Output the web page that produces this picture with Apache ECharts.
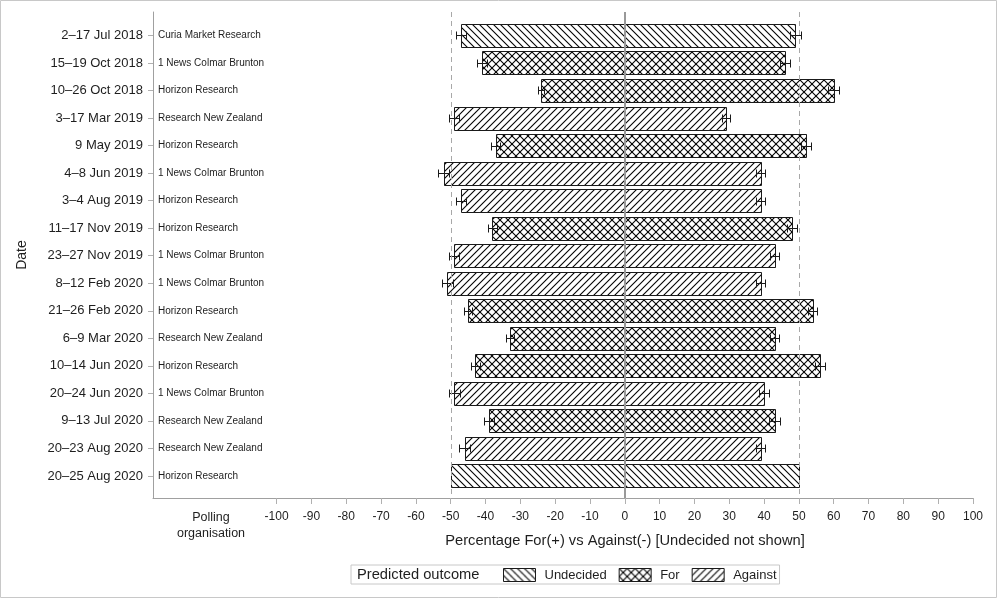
<!DOCTYPE html>
<html>
<head>
<meta charset="utf-8">
<script src="https://cdn.jsdelivr.net/npm/echarts@6/dist/echarts.min.js"></script>
<style>
html,body{margin:0;padding:0;background:#fff;}
#chart{width:998px;height:599px;}
</style>
</head>
<body>
<div id="chart"></div>
<script>
// ---- data ----
const dates = ['2–17 Jul 2018','15–19 Oct 2018','10–26 Oct 2018','3–17 Mar 2019','9 May 2019','4–8 Jun 2019','3–4 Aug 2019','11–17 Nov 2019','23–27 Nov 2019','8–12 Feb 2020','21–26 Feb 2020','6–9 Mar 2020','10–14 Jun 2020','20–24 Jun 2020','9–13 Jul 2020','20–23 Aug 2020','20–25 Aug 2020'];
const pollsters = ['Curia Market Research','1 News Colmar Brunton','Horizon Research','Research New Zealand','Horizon Research','1 News Colmar Brunton','Horizon Research','Horizon Research','1 News Colmar Brunton','1 News Colmar Brunton','Horizon Research','Research New Zealand','Horizon Research','1 News Colmar Brunton','Research New Zealand','Research New Zealand','Horizon Research'];
const outcomes = ['Undecided','For','For','Against','For','Against','Against','For','Against','Against','For','For','For','Against','For','Against','Undecided'];
const againstPct = [47,41,24,49,37,52,47,38,49,51,45,33,43,49,39,46,50];
const forPct = [49,46,60,29,52,39,39,48,43,39,54,43,56,40,43,39,50];
const errAgainst = [1.4,1.35,0.8,1.35,1.3,1.65,1.4,1.3,1.45,1.6,1.2,1.2,1.3,1.55,1.4,1.5,0];
const errFor = [1.5,1.4,1.5,1.1,1.5,1.3,1.3,1.5,1.4,1.4,1.3,1.35,1.4,1.35,1.45,1.4,0];
const outcomeNames = ['Undecided','For','Against'];
const xTicks = [-100,-90,-80,-70,-60,-50,-40,-30,-20,-10,0,10,20,30,40,50,60,70,80,90,100];
const refLines = [-50, 0, 50];

// ---- hatch patterns ----
function makePattern(kind) {
  const s = kind === 'cross' ? 8 : 7;
  const c = document.createElement('canvas');
  c.width = s; c.height = s;
  const g = c.getContext('2d');
  g.fillStyle = '#fff'; g.fillRect(0, 0, s, s);
  g.strokeStyle = '#000'; g.lineWidth = 1.1;
  if (kind === 'fwd' || kind === 'cross') {
    [0, s, 2 * s].forEach(k => { g.beginPath(); g.moveTo(k + 1, -1); g.lineTo(k - s - 1, s + 1); g.stroke(); });
  }
  if (kind === 'back' || kind === 'cross') {
    [-s, 0, s].forEach(k => { g.beginPath(); g.moveTo(k - 1, -1); g.lineTo(k + s + 1, s + 1); g.stroke(); });
  }
  return { image: c, repeat: 'repeat' };
}
const patterns = { 'Undecided': makePattern('back'), 'For': makePattern('cross'), 'Against': makePattern('fwd') };

const FONT = "'Liberation Sans', Arial, sans-serif";
const rows = dates.map((d, i) => i);

function renderBar(name) {
  return function (params, api) {
    const row = api.value(0);
    const a = api.value(1), f = api.value(2), ea = api.value(3), ef = api.value(4);
    const p0 = api.coord([-a, row]);
    const p1 = api.coord([f, row]);
    const h = api.size([0, 1])[1] * 0.835;
    const y = p0[1];
    const x0 = Math.round(p0[0]) + 0.5, x1 = Math.round(p1[0]) + 0.5;
    const yt = Math.round(y - h / 2) + 0.5;
    const children = [{
      type: 'rect',
      shape: { x: x0, y: yt, width: x1 - x0, height: Math.round(h) },
      style: { fill: patterns[name], stroke: '#1a1a1a', lineWidth: 1 }
    }];
    const yc = Math.round(y) + 0.5;
    function errBar(v, e) {
      if (!e) return;
      const l = Math.round(api.coord([v - e, row])[0]) + 0.5;
      const r = Math.round(api.coord([v + e, row])[0]) + 0.5;
      const st = { stroke: '#1a1a1a', lineWidth: 1 };
      children.push({ type: 'line', shape: { x1: l, y1: yc, x2: r, y2: yc }, style: st });
      children.push({ type: 'line', shape: { x1: l, y1: yc - 4, x2: l, y2: yc + 4 }, style: st });
      children.push({ type: 'line', shape: { x1: r, y1: yc - 4, x2: r, y2: yc + 4 }, style: st });
    }
    errBar(-a, ea);
    errBar(f, ef);
    return { type: 'group', children: children };
  };
}

const barSeries = outcomeNames.map(name => ({
  type: 'custom',
  name: name,
  xAxisIndex: 0, yAxisIndex: 0,
  itemStyle: { color: patterns[name] },
  encode: { x: 2, y: 0 },
  renderItem: renderBar(name),
  data: rows.filter(i => outcomes[i] === name).map(i => [i, againstPct[i], forPct[i], errAgainst[i], errFor[i]]),
  z: 2,
  silent: true
}));

const refSeries = {
  type: 'custom',
  name: 'ref',
  xAxisIndex: 0, yAxisIndex: 0,
  encode: { x: 0 },
  z: 5,
  silent: true,
  data: refLines.map(v => [v]),
  renderItem: function (params, api) {
    const v = api.value(0);
    const cs = params.coordSys;
    const x = Math.round(api.coord([v, 0])[0]) + (v === 0 ? 0 : 0.5);
    return {
      type: 'line',
      shape: { x1: x, y1: cs.y, x2: x, y2: cs.y + cs.height },
      style: v === 0 ? { stroke: '#999999', lineWidth: 2 } : { stroke: '#a8a8a8', lineWidth: 1, lineDash: [5, 4] }
    };
  }
};

const chart = echarts.init(document.getElementById('chart'), null, { renderer: 'canvas' });
chart.setOption({
  animation: false,
  backgroundColor: '#fff',
  textStyle: { fontFamily: FONT },
  grid: { left: 153, top: 12, width: 820, height: 486, containLabel: false },
  xAxis: [{
    type: 'value', min: -135.5, max: 100,
    axisLine: { show: true, onZero: false, lineStyle: { color: '#a0a0a0', width: 1 } },
    axisTick: { show: true, length: 6, lineStyle: { color: '#b0b0b0' }, customValues: xTicks },
    axisLabel: { show: true, customValues: xTicks, fontSize: 12, color: '#1e1e1e', margin: 13, fontFamily: FONT },
    splitLine: { show: false }
  }],
  yAxis: [{
    type: 'value', inverse: true, min: -0.85, max: 16.8,
    name: 'Date', nameLocation: 'middle', nameGap: 124, nameRotate: 90,
    nameTextStyle: { fontSize: 14, color: '#1e1e1e', fontFamily: FONT },
    axisLine: { show: true, onZero: false, lineStyle: { color: '#a0a0a0', width: 1 } },
    axisTick: { show: true, length: 5, lineStyle: { color: '#b0b0b0' }, customValues: rows },
    axisLabel: { show: true, customValues: rows, formatter: v => dates[Math.round(v)], fontSize: 13, color: '#1e1e1e', margin: 10, fontFamily: FONT },
    splitLine: { show: false }
  }, {
    type: 'value', inverse: true, min: -0.85, max: 16.8, position: 'left',
    axisLine: { show: false, onZero: false }, axisTick: { show: false },
    axisLabel: { show: true, inside: true, customValues: rows, formatter: v => pollsters[Math.round(v)], fontSize: 10, color: '#1e1e1e', margin: 5, fontFamily: FONT },
    splitLine: { show: false }
  }],
  legend: {
    show: true, selectedMode: false,
    left: 351, top: 565,
    padding: [3, 3, 2, 152],
    itemWidth: 32, itemHeight: 13, itemGap: 12,
    borderColor: '#c8c8c8', borderWidth: 1,
    icon: 'rect',
    itemStyle: { borderColor: '#1a1a1a', borderWidth: 1 },
    textStyle: { fontSize: 13, color: '#1e1e1e', padding: [0, 0, 0, 4], lineHeight: 13, fontFamily: FONT },
    data: outcomeNames.map(n => ({ name: n, icon: 'rect', itemStyle: { color: patterns[n] } }))
  },
  graphic: [
    { type: 'rect', silent: true, shape: { x: 0.5, y: 0.5, width: 996, height: 597 }, style: { fill: 'none', stroke: '#c8c8c8', lineWidth: 1 } },
    { type: 'text', silent: true, x: 357, y: 567, style: { text: 'Predicted outcome', fontSize: 14.7, fill: '#1e1e1e', fontFamily: FONT } },
    { type: 'text', silent: true, x: 211, y: 510, style: { text: 'Polling\norganisation', fontSize: 12.5, lineHeight: 16, fill: '#1e1e1e', align: 'center', fontFamily: FONT } },
    { type: 'text', silent: true, x: 625, y: 533, style: { text: 'Percentage For(+) vs Against(-) [Undecided not shown]', fontSize: 14.7, fill: '#1e1e1e', align: 'center', fontFamily: FONT } }
  ],
  series: barSeries.concat([refSeries])
});
</script>
</body>
</html>
